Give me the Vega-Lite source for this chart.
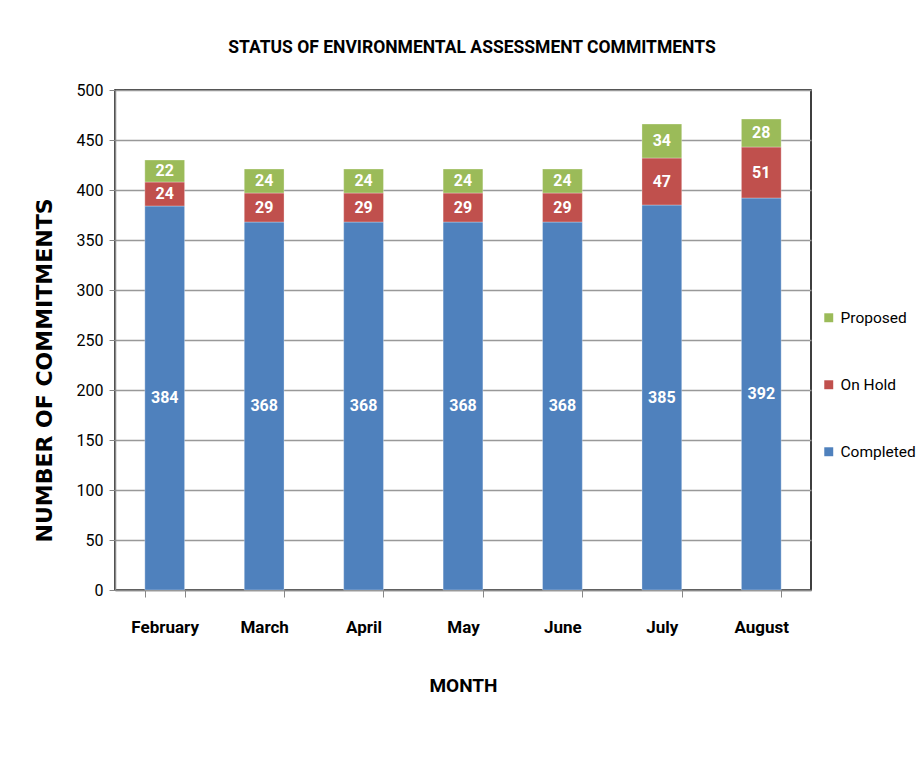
{
  "$schema": "https://vega.github.io/schema/vega-lite/v6.json",
  "autosize": {"type": "none"},
  "padding": {"left": 115, "top": 90, "right": 108, "bottom": 178},
  "width": 696,
  "height": 500,
  "background": "white",
  "config": {
    "font": "Roboto",
    "view": {"stroke": "black", "strokeWidth": 1.5}
  },
  "title": {
    "text": "STATUS OF ENVIRONMENTAL ASSESSMENT COMMITMENTS",
    "font": "Roboto",
    "fontSize": 17.5,
    "fontWeight": "bold",
    "color": "black",
    "anchor": "middle",
    "dx": 9,
    "offset": 26
  },
  "data": {
    "values": [
      {"month": "February", "status": "Completed", "value": 384},
      {"month": "February", "status": "On Hold", "value": 24},
      {"month": "February", "status": "Proposed", "value": 22},
      {"month": "March", "status": "Completed", "value": 368},
      {"month": "March", "status": "On Hold", "value": 29},
      {"month": "March", "status": "Proposed", "value": 24},
      {"month": "April", "status": "Completed", "value": 368},
      {"month": "April", "status": "On Hold", "value": 29},
      {"month": "April", "status": "Proposed", "value": 24},
      {"month": "May", "status": "Completed", "value": 368},
      {"month": "May", "status": "On Hold", "value": 29},
      {"month": "May", "status": "Proposed", "value": 24},
      {"month": "June", "status": "Completed", "value": 368},
      {"month": "June", "status": "On Hold", "value": 29},
      {"month": "June", "status": "Proposed", "value": 24},
      {"month": "July", "status": "Completed", "value": 385},
      {"month": "July", "status": "On Hold", "value": 47},
      {"month": "July", "status": "Proposed", "value": 34},
      {"month": "August", "status": "Completed", "value": 392},
      {"month": "August", "status": "On Hold", "value": 51},
      {"month": "August", "status": "Proposed", "value": 28}
    ]
  },
  "transform": [
    {"stack": "value", "groupby": ["month"], "sort": [{"field": "status", "order": "ascending"}], "as": ["v0", "v1"]},
    {"calculate": "(datum.v0 + datum.v1) / 2", "as": "mid"}
  ],
  "encoding": {
    "x": {
      "field": "month",
      "type": "nominal",
      "sort": ["February", "March", "April", "May", "June", "July", "August"],
      "scale": {"paddingInner": 0.6, "paddingOuter": 0.3},
      "axis": {
        "title": "MONTH",
        "titleFont": "Roboto",
        "titleFontSize": 19,
        "titleFontWeight": "bold",
        "titleColor": "black",
        "titlePadding": 41,
        "labelAngle": 0,
        "labelFont": "Roboto",
        "labelFontSize": 17,
        "labelFontWeight": "bold",
        "labelColor": "black",
        "labelPadding": 22,
        "tickBand": "extent",
        "tickSize": 7,
        "tickColor": "#888888",
        "domainColor": "#888888",
        "domainWidth": 1.5
      }
    }
  },
  "layer": [
    {
      "mark": {"type": "bar", "stroke": "white", "strokeWidth": 0.5, "strokeOpacity": 0.6},
      "encoding": {
        "y": {
          "field": "v0",
          "type": "quantitative",
          "scale": {"domain": [0, 500]},
          "axis": {
            "title": "NUMBER OF COMMITMENTS",
            "titleFont": "DejaVu Sans",
            "titleFontSize": 22,
            "titleFontWeight": "bold",
            "titleColor": "black",
            "titlePadding": 20,
            "titleY": 280,
            "values": [0, 50, 100, 150, 200, 250, 300, 350, 400, 450, 500],
            "labelFont": "Roboto",
            "labelFontSize": 16,
            "labelColor": "black",
            "labelPadding": 6,
            "tickSize": 6,
            "tickColor": "#888888",
            "domainColor": "#888888",
            "domainWidth": 1.5,
            "grid": true,
            "gridColor": "#999999",
            "gridWidth": 1.5
          }
        },
        "y2": {"field": "v1"},
        "color": {
          "field": "status",
          "type": "nominal",
          "scale": {"domain": ["Proposed", "On Hold", "Completed"], "range": ["#9BBB59", "#C0504D", "#4F81BD"]},
          "legend": {
            "title": null,
            "orient": "none",
            "legendX": 706,
            "legendY": 220,
            "symbolType": "square",
            "symbolSize": 80,
            "symbolStrokeWidth": 0,
            "labelFont": "Roboto",
            "labelFontSize": 15.5,
            "labelColor": "black",
            "labelOffset": 4,
            "rowPadding": 50
          }
        }
      }
    },
    {
      "mark": {"type": "text", "color": "white", "fontWeight": "bold", "fontSize": 16, "font": "Roboto", "baseline": "middle"},
      "encoding": {
        "y": {"field": "mid", "type": "quantitative"},
        "text": {"field": "value", "type": "quantitative"}
      }
    }
  ]
}
